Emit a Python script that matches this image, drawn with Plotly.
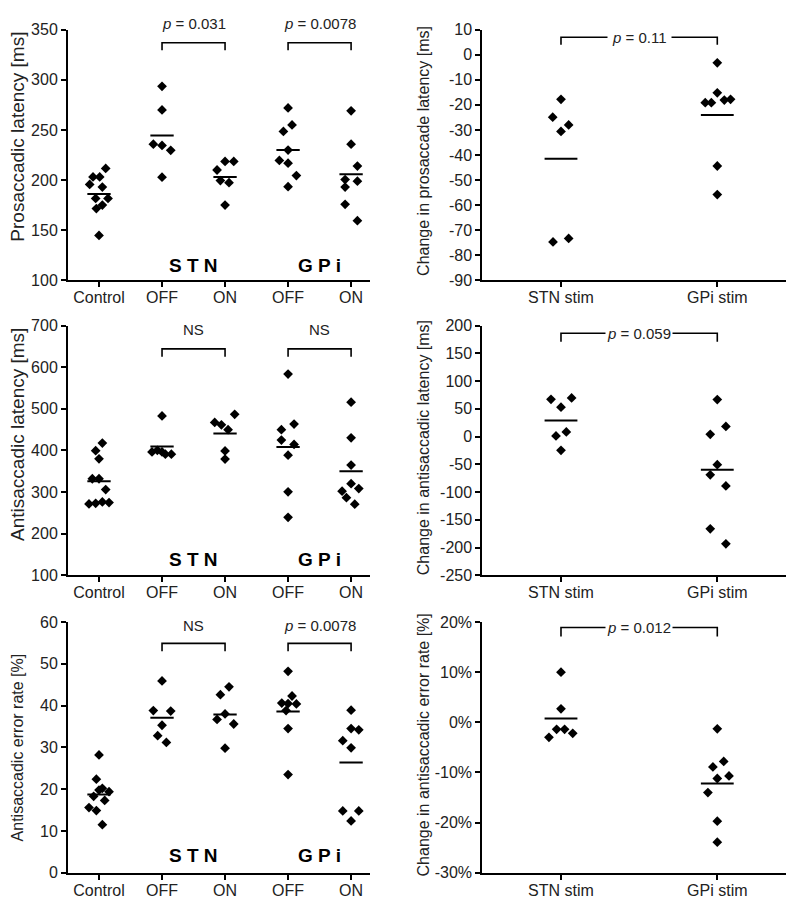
import numpy as np
import plotly.graph_objects as go

# ---------------- data ----------------
groups5 = ["Control", "OFF", "ON", "OFF", "ON"]
groups2 = ["STN stim", "GPi stim"]

# Prosaccadic latency [ms]
pro_control = [211.6, 203.1, 203.1, 195.6, 193.0, 181.6, 181.6, 175.0, 171.5, 144.7]
pro_stn_off = [293.5, 270.0, 235.8, 234.5, 229.6, 202.8]
pro_stn_on = [210.0, 218.5, 218.5, 199.5, 197.3, 175.0]
pro_gpi_off = [272.0, 248.5, 255.0, 229.9, 219.5, 216.8, 204.4, 193.3]
pro_gpi_on = [269.1, 235.8, 213.9, 200.5, 198.9, 193.0, 175.7, 159.4]

# Antisaccadic latency [ms]
anti_control = [417.7, 399.6, 380.0, 332.0, 332.0, 306.0, 271.4, 273.0, 276.2, 274.6]
anti_stn_off = [483.2, 396.6, 400.4, 396.6, 391.0, 391.0]
anti_stn_on = [487.0, 467.4, 461.7, 450.0, 399.0, 379.2]
anti_gpi_off = [583.8, 450.0, 463.4, 425.0, 414.6, 388.6, 300.6, 239.3]
anti_gpi_on = [516.0, 430.4, 365.0, 320.2, 302.2, 308.4, 286.5, 270.7]

# Antisaccadic error rate [%]
err_control = [28.2, 22.4, 20.2, 19.8, 19.4, 18.3, 17.3, 15.6, 14.9, 11.5]
err_stn_off = [45.9, 38.8, 38.7, 35.3, 32.8, 31.2]
err_stn_on = [44.5, 42.6, 38.0, 36.7, 35.6, 29.8]
err_gpi_off = [48.2, 42.3, 40.6, 40.5, 40.4, 38.8, 34.5, 23.5]
err_gpi_on = [38.9, 34.5, 34.2, 31.6, 29.9, 14.8, 14.8, 12.4]

# Changes with stimulation
dpro_stn = [-17.8, -24.9, -28.0, -30.6, -74.7, -73.3]
dpro_gpi = [-3.2, -15.2, -19.1, -19.1, -18.1, -17.8, -44.4, -55.8]
danti_stn = [67.3, 69.7, 53.1, 8.4, 1.3, -24.7]
danti_gpi = [66.8, 18.4, 4.2, -50.6, -69.0, -89.0, -166.3, -193.4]
derr_stn = [10.0, 2.7, -3.0, -1.4, -1.4, -2.2]
derr_gpi = [-1.3, -8.9, -7.8, -11.2, -10.7, -14.0, -19.7, -23.9]

# horizontal scatter offsets (category units)
jit_pro = [
    [0.106, -0.095, 0.011, -0.148, 0.053, -0.053, 0.143, 0.053, -0.042, 0.0],
    [0.0, 0.0, -0.138, 0.0, 0.138, 0.0],
    [-0.127, 0.0, 0.138, -0.074, 0.063, 0.0],
    [0.0, -0.074, 0.063, 0.0, -0.138, 0.0, 0.132, 0.0],
    [0.0, 0.0, 0.1, -0.095, 0.1, -0.095, -0.095, 0.1],
]
jit_anti = [
    [0.053, -0.053, 0.0, -0.106, 0.0, 0.106, -0.159, -0.053, 0.053, 0.159],
    [0.0, -0.159, -0.074, 0.0, 0.053, 0.148],
    [0.153, -0.164, -0.058, 0.048, 0.0, 0.0],
    [0.0, -0.106, 0.095, -0.106, 0.095, 0.0, 0.0, 0.0],
    [0.0, 0.0, 0.0, 0.0, -0.143, 0.122, -0.074, 0.058],
]
jit_err = [
    [0.0, -0.042, 0.053, 0.0, 0.159, -0.085, 0.09, -0.159, -0.042, 0.053],
    [0.0, -0.138, 0.138, 0.0, -0.069, 0.069],
    [0.063, -0.074, 0.0, -0.127, 0.138, 0.0],
    [0.0, 0.063, -0.1, 0.0, 0.132, -0.032, 0.0, 0.0],
    [0.0, 0.0, 0.122, -0.132, 0.0, -0.132, 0.122, 0.0],
]
jit_dpro = [[0.0, -0.053, 0.049, 0.0, -0.051, 0.049],
            [0.0, 0.0, -0.077, -0.038, 0.045, 0.085, 0.0, 0.0]]
jit_danti = [[-0.064, 0.068, 0.0, 0.034, -0.032, 0.0],
             [0.0, 0.055, -0.045, 0.0, -0.045, 0.055, -0.045, 0.055]]
jit_derr = [[0.0, 0.0, -0.077, -0.028, 0.023, 0.075],
            [0.0, -0.028, 0.041, 0.0, 0.075, -0.06, 0.0, 0.0]]

ticks_pro = [100, 150, 200, 250, 300, 350]
ticks_anti = [100, 200, 300, 400, 500, 600, 700]
ticks_err = [0, 10, 20, 30, 40, 50, 60]
ticks_dpro = [10, 0, -10, -20, -30, -40, -50, -60, -70, -80, -90]
ticks_danti = [200, 150, 100, 50, 0, -50, -100, -150, -200, -250]
ticks_derr = [20, 10, 0, -10, -20, -30]

# ---------------- figure ----------------
W, H = 794, 899
FONT = "Liberation Sans, Arial, sans-serif"
TXT = "#222"

fig = go.Figure()


def px_x(p):
    return p / W


def px_y(p):
    return 1 - p / H


left_dom = [px_x(60), px_x(362)]
right_dom = [px_x(474.3), px_x(789)]
row_dom = [[px_y(269.3), px_y(14)], [px_y(570), px_y(315.7)], [px_y(873.3), px_y(617.7)]]


def add_groups(n, data, jits, halfw):
    xa = "x" if n == 1 else f"x{n}"
    ya = "y" if n == 1 else f"y{n}"
    for i, (vals, jit) in enumerate(zip(data, jits)):
        fig.add_trace(go.Scatter(
            x=[i + j for j in jit], y=vals, mode="markers",
            marker=dict(symbol="diamond", size=7.5, color="black", line=dict(width=0)),
            xaxis=xa, yaxis=ya, showlegend=False, hoverinfo="skip", cliponaxis=False))
        m = float(np.mean(vals))
        fig.add_trace(go.Scatter(
            x=[i - halfw, i + halfw], y=[m, m], mode="lines",
            line=dict(color="black", width=2),
            xaxis=xa, yaxis=ya, showlegend=False, hoverinfo="skip"))


def add_bracket(n, x0, x1, ytop, ybot):
    xa = "x" if n == 1 else f"x{n}"
    ya = "y" if n == 1 else f"y{n}"
    fig.add_trace(go.Scatter(
        x=[x0, x0, x1, x1], y=[ybot, ytop, ytop, ybot], mode="lines",
        line=dict(color="black", width=1.6),
        xaxis=xa, yaxis=ya, showlegend=False, hoverinfo="skip", cliponaxis=False))


annotations = []


def add_text(n, x, y, text, size=15, bg=None, pad=1, bold=False, yshift=0):
    xa = "x" if n == 1 else f"x{n}"
    ya = "y" if n == 1 else f"y{n}"
    a = dict(x=x, y=y, xref=xa, yref=ya, text=text, showarrow=False,
             font=dict(family=FONT, size=size, color=TXT if not bold else "black"),
             xanchor="center", yanchor="middle", borderpad=pad, yshift=yshift)
    if bg:
        a["bgcolor"] = bg
    annotations.append(a)


# panel 1: prosaccadic latency
add_groups(1, [pro_control, pro_stn_off, pro_stn_on, pro_gpi_off, pro_gpi_on], jit_pro, 0.185)
add_bracket(1, 1, 2, 337, 329.5)
add_bracket(1, 3, 4, 337, 329.5)
add_text(1, 1.5, 350, "<i>p</i> = 0.031", yshift=6)
add_text(1, 3.5, 350, "<i>p</i> = 0.0078", yshift=6)
add_text(1, 1.5, 114.7, "<b>S T N</b>", size=19, bold=True)
add_text(1, 3.5, 114.7, "<b>G P i</b>", size=19, bold=True)

# panel 2: change in prosaccade latency
add_groups(2, [dpro_stn, dpro_gpi], jit_dpro, 0.105)
add_bracket(2, 0, 1, 7, 4)
add_text(2, 0.5, 7, "<i>p</i> = 0.11", bg="white", pad=4)

# panel 3: antisaccadic latency
add_groups(3, [anti_control, anti_stn_off, anti_stn_on, anti_gpi_off, anti_gpi_on], jit_anti, 0.185)
add_bracket(3, 1, 2, 644.3, 625.5)
add_bracket(3, 3, 4, 644.3, 625.5)
add_text(3, 1.5, 690, "NS")
add_text(3, 3.5, 690, "NS")
add_text(3, 1.5, 137.1, "<b>S T N</b>", size=19, bold=True)
add_text(3, 3.5, 137.1, "<b>G P i</b>", size=19, bold=True)

# panel 4: change in antisaccadic latency
add_groups(4, [danti_stn, danti_gpi], jit_danti, 0.105)
add_bracket(4, 0, 1, 186.5, 171)
add_text(4, 0.5, 186.5, "<i>p</i> = 0.059", bg="white", pad=1)

# panel 5: antisaccadic error rate
add_groups(5, [err_control, err_stn_off, err_stn_on, err_gpi_off, err_gpi_on], jit_err, 0.185)
add_bracket(5, 1, 2, 54.9, 53.0)
add_bracket(5, 3, 4, 54.9, 53.0)
add_text(5, 1.5, 59.1, "NS")
add_text(5, 3.5, 59.1, "<i>p</i> = 0.0078")
add_text(5, 1.5, 4.2, "<b>S T N</b>", size=19, bold=True)
add_text(5, 3.5, 4.2, "<b>G P i</b>", size=19, bold=True)

# panel 6: change in antisaccadic error rate
add_groups(6, [derr_stn, derr_gpi], jit_derr, 0.105)
add_bracket(6, 0, 1, 18.9, 17.1)
add_text(6, 0.5, 18.9, "<i>p</i> = 0.012", bg="white", pad=1)

# y-axis titles
titles = [
    ("Prosaccadic latency [ms]", 9.5, 123.5, 19),
    ("Change in prosaccade latency [ms]", 415.5, 138, 16),
    ("Antisaccadic latency [ms]", 9.5, 426.5, 19),
    ("Change in antisaccadic latency [ms]", 415.5, 440, 16),
    ("Antisaccadic error rate [%]", 9.5, 746, 16),
    ("Change in antisaccadic error rate [%]", 415.5, 743, 16),
]
for t, xp, yp, s in titles:
    annotations.append(dict(x=px_x(xp), y=px_y(yp), xref="paper", yref="paper", text=t,
                            textangle=-90, showarrow=False, xanchor="center", yanchor="middle",
                            font=dict(family=FONT, size=s, color=TXT)))

axis_common = dict(showline=True, linecolor="black", linewidth=2, ticks="outside",
                   ticklen=5, tickwidth=2, tickcolor="black", showgrid=False, zeroline=False,
                   tickfont=dict(family=FONT, size=16, color=TXT), fixedrange=True)

layout = dict(width=W, height=H, margin=dict(l=0, r=0, t=0, b=0),
              paper_bgcolor="white", plot_bgcolor="white", showlegend=False,
              annotations=annotations)

panels = [
    (1, left_dom, row_dom[0], [-0.492, 4.30], list(range(5)), groups5, [100, 350], ticks_pro, [str(v) for v in ticks_pro]),
    (2, right_dom, row_dom[0], [-0.5035, 1.51], [0, 1], groups2, [-90, 10], ticks_dpro, [str(v) for v in ticks_dpro]),
    (3, left_dom, row_dom[1], [-0.492, 4.30], list(range(5)), groups5, [100, 700], ticks_anti, [str(v) for v in ticks_anti]),
    (4, right_dom, row_dom[1], [-0.5035, 1.51], [0, 1], groups2, [-250, 200], ticks_danti, [str(v) for v in ticks_danti]),
    (5, left_dom, row_dom[2], [-0.492, 4.30], list(range(5)), groups5, [0, 60], ticks_err, [str(v) for v in ticks_err]),
    (6, right_dom, row_dom[2], [-0.5035, 1.51], [0, 1], groups2, [-30, 20], ticks_derr, [f"{v}%" for v in ticks_derr]),
]
for n, xd, yd, xr, xtv, xtt, yr, ytv, ytt in panels:
    xk = "xaxis" if n == 1 else f"xaxis{n}"
    yk = "yaxis" if n == 1 else f"yaxis{n}"
    ya = "y" if n == 1 else f"y{n}"
    xa = "x" if n == 1 else f"x{n}"
    layout[xk] = dict(axis_common, domain=xd, range=xr, tickvals=xtv, ticktext=xtt, anchor=ya,
                      ticklabelstandoff=-3)
    layout[yk] = dict(axis_common, domain=yd, range=yr, tickvals=ytv, ticktext=ytt, anchor=xa)

fig.update_layout(**layout)
fig.write_html("out.html")
